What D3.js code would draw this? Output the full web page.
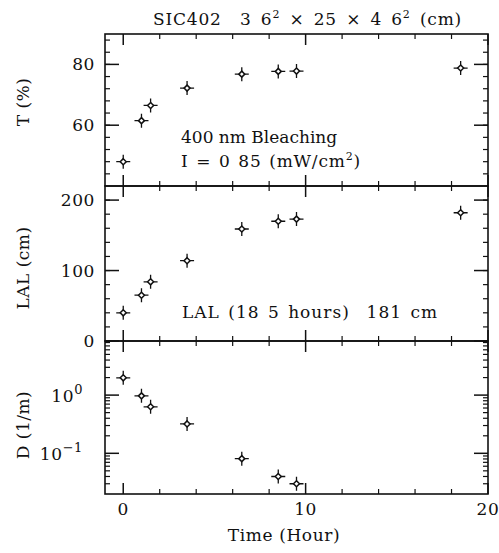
<!DOCTYPE html>
<html><head><meta charset="utf-8">
<script src="https://cdn.jsdelivr.net/npm/d3@7"></script>
<style>body{margin:0;background:#fff}svg{display:block}text{font-family:"DejaVu Serif",serif;fill:#111;white-space:pre}</style>
</head><body>
<svg id="c" width="499" height="553"></svg>
<script>
// Data
const timeT = [0, 1, 1.5, 3.5, 6.5, 8.5, 9.5, 18.5];
const valT = [48, 61.5, 66.5, 72.2, 76.8, 77.7, 77.8, 78.8];
const timeLAL = [0, 1, 1.5, 3.5, 6.5, 8.5, 9.5, 18.5];
const valLAL = [40, 65, 84, 114, 159, 170, 173, 182];
const timeD = [0, 1, 1.5, 3.5, 6.5, 8.5, 9.5];
const valD = [1.98, 0.97, 0.63, 0.32, 0.081, 0.040, 0.030];
const xTickLabels = [0, 10, 20];
const tTickLabels = [60, 80];
const lalTickLabels = [0, 100, 200];
const dTickLabels = [1, 0.1];

const svg = d3.select("#c");
const L = 105, R = 488;
const x = d3.scaleLinear().domain([-1, 20]).range([L, R]);
const panels = [
  {top: 34, bot: 186, scale: d3.scaleLinear().domain([40, 90]), xs: timeT, ys: valT,
   major: tTickLabels, minor: d3.range(44, 90, 4), label: "T (%)", ly: 102},
  {top: 186, bot: 341, scale: d3.scaleLinear().domain([0, 220]), xs: timeLAL, ys: valLAL,
   major: lalTickLabels, minor: d3.range(20, 220, 20), label: "LAL (cm)", ly: 268},
  {top: 341, bot: 494, scale: d3.scaleLog().domain([0.02, 8.5]), xs: timeD, ys: valD,
   major: dTickLabels, minor: [0.02,0.03,0.04,0.05,0.06,0.07,0.08,0.09,0.2,0.3,0.4,0.5,0.6,0.7,0.8,0.9,2,3,4,5,6,7,8], label: "D (1/m)", ly: 425, log: true}
];
const xMajor = [0, 10, 20];
const xMinor = d3.range(2, 20, 2).filter(v => v !== 10);

panels.forEach(p => {
  const y = p.scale.range([p.bot, p.top]);
  const g = svg.append("g");
  g.append("rect").attr("x", L).attr("y", p.top).attr("width", R - L).attr("height", p.bot - p.top)
    .attr("fill", "none").attr("stroke", "#111").attr("stroke-width", 1.6);
  const tick = (x1, y1, x2, y2, w) => g.append("line").attr("x1", x1).attr("y1", y1).attr("x2", x2).attr("y2", y2)
    .attr("stroke", "#111").attr("stroke-width", w || 1.2);
  xMajor.forEach(v => { const xx = x(v); tick(xx, p.top, xx, p.top + 11, 1.5); tick(xx, p.bot, xx, p.bot - 11, 1.5); });
  xMinor.forEach(v => { const xx = x(v); tick(xx, p.top, xx, p.top + 5); tick(xx, p.bot, xx, p.bot - 5); });
  p.major.forEach(v => { const yy = y(v); tick(L, yy, L + 14, yy, 1.5); tick(R, yy, R - 14, yy, 1.5); });
  p.minor.forEach(v => { const yy = y(v); if (yy > p.top + 1 && yy < p.bot - 1) { tick(L, yy, L + 5, yy); tick(R, yy, R - 5, yy); } });
  p.major.forEach(v => {
    const t = g.append("text").attr("x", p.log ? 83 : 95).attr("y", y(v) + 6).attr("text-anchor", "end")
      .attr("font-size", 17).attr("letter-spacing", 0.6);
    if (p.log) {
      const e = Math.round(Math.log10(v));
      t.attr("y", y(v) + 7);
      t.append("tspan").text("10");
      t.append("tspan").attr("dy", -8).attr("font-size", 13).text(e === 0 ? "0" : "\u2212" + (-e));
    } else t.text(v);
  });
  svg.append("text").attr("transform", `translate(29,${p.ly}) rotate(-90)`).attr("text-anchor", "middle")
    .attr("font-size", 17).attr("letter-spacing", 0.5).text(p.label);
  const m = g.selectAll("g.m").data(p.xs.map((t, i) => [t, p.ys[i]])).enter().append("g")
    .attr("transform", d => `translate(${x(d[0])},${y(d[1])})`);
  m.append("path").attr("d", "M-7,0H-2.5M2.5,0H7M0,-7V-2.5M0,2.5V7").attr("stroke", "#111").attr("stroke-width", 1.3);
  m.append("path").attr("d", "M0,-3L3,0L0,3L-3,0Z").attr("fill", "#fff").attr("stroke", "#111").attr("stroke-width", 1.5);
});

xTickLabels.forEach(v => svg.append("text").attr("x", x(v)).attr("y", 515).attr("text-anchor", "middle").attr("font-size", 17).attr("letter-spacing", 0.6).text(v));
svg.append("text").attr("x", 284).attr("y", 541).attr("text-anchor", "middle").attr("font-size", 17).attr("letter-spacing", 0.6).text("Time (Hour)");

const ti = svg.append("text").attr("x", 153).attr("y", 25).attr("font-size", 17)
  .attr("letter-spacing", 0.8).attr("word-spacing", 3);
ti.append("tspan").text("SIC402  3 6");
ti.append("tspan").attr("dy", -7).attr("font-size", 11).text("2");
ti.append("tspan").attr("dy", 7).text(" \u00d7 25 \u00d7 4 6");
ti.append("tspan").attr("dy", -7).attr("font-size", 11).text("2");
ti.append("tspan").attr("dy", 7).text(" (cm)");

svg.append("text").attr("x", 181).attr("y", 143).attr("font-size", 17).text("400 nm Bleaching");
const a2 = svg.append("text").attr("x", 181).attr("y", 167).attr("font-size", 17)
  .attr("letter-spacing", 0.8).attr("word-spacing", 1.5);
a2.append("tspan").text("I = 0 85 (mW/cm");
a2.append("tspan").attr("dy", -7).attr("font-size", 11).text("2");
a2.append("tspan").attr("dy", 7).text(")");
svg.append("text").attr("x", 182).attr("y", 318).attr("font-size", 17)
  .attr("letter-spacing", 1).attr("word-spacing", 2).text("LAL (18 5 hours)  181 cm");
</script>
</body></html>
